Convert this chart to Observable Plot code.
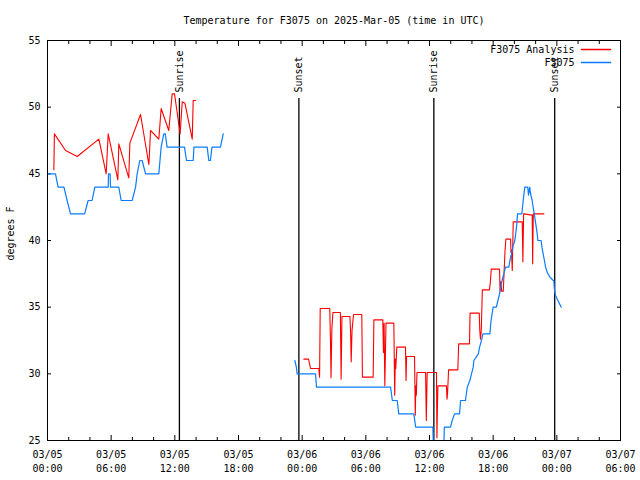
<!DOCTYPE html>
<html>
<head>
<meta charset="utf-8">
<script src="https://cdn.jsdelivr.net/npm/d3@7"></script>
<script src="https://cdn.jsdelivr.net/npm/@observablehq/plot@0.6"></script>
<style>
  html, body { margin: 0; padding: 0; background: #ffffff; }
</style>
</head>
<body>
<div id="chart"></div>
<script>
// ---- Texts ----
const chartTitle = "Temperature for F3075 on 2025-Mar-05 (time in UTC)";
const yLabel = "degrees F";
const seriesNames = ["F3075 Analysis", "F3075"];
const seriesColors = ["#ff0000", "#0a7cff"];

// ---- Axis ticks (hours since 2025-03-05 00:00 UTC) ----
const xMajorTicks = [0, 6, 12, 18, 24, 30, 36, 42, 48, 54];
const xMinorTicks = [2, 4, 8, 10, 14, 16, 20, 22, 26, 28, 32, 34, 38, 40, 44, 46, 50, 52];
const xTickLabels = [
  "03/05\n00:00", "03/05\n06:00", "03/05\n12:00", "03/05\n18:00",
  "03/06\n00:00", "03/06\n06:00", "03/06\n12:00", "03/06\n18:00",
  "03/07\n00:00", "03/07\n06:00"
];
const yTicks = [25, 30, 35, 40, 45, 50, 55];

// ---- Sun events ----
const sunHours = [12.43, 23.69, 36.41, 47.8];
const sunLabels = ["Sunrise", "Sunset", "Sunrise", "Sunset"];

// ---- F3075 observations (blue) ----
const obsHours = [
  0, 0.75, 1.0, 1.55, 1.85, 2.17, 3.5, 3.83, 4.2, 4.46, 5.72, 5.75, 5.9, 5.94, 6.72, 6.94,
  7.98, 8.3, 8.45, 8.7, 8.92, 9.24, 10.49, 10.6, 10.71, 10.96, 11.1, 11.27, 12.91, 13.1,
  13.73, 13.8, 15.05, 15.2, 15.35, 15.5, 16.3, 16.56,
  20,
  23.31, 23.45, 23.53, 25.26, 25.35, 32.33, 32.5, 32.96, 33.1, 34.52, 34.7, 36.32, 36.38,
  37.33, 37.4, 37.98, 38.14, 38.36, 38.83, 38.93, 39.39, 39.56, 39.8, 39.96, 40.12, 40.18,
  40.6, 40.72, 40.9, 41.03, 41.69, 41.8, 42.0, 42.3, 42.45, 42.6, 42.7, 42.84, 43.0, 43.17,
  43.48, 43.6, 43.73, 43.88, 44.04, 44.2, 44.3, 44.7, 44.83, 44.98, 45.26, 45.33, 45.4,
  45.45, 45.5, 45.67, 45.87, 46.06, 46.15, 46.21, 46.52, 46.6, 46.71, 46.83, 46.94, 47.1,
  47.35, 47.66, 47.72, 47.78, 47.87, 48.1, 48.42
];
const obsTemps = [
  45, 45, 44, 44, 43, 42, 42, 43, 43, 44, 44, 45, 45, 44, 44, 43,
  43, 44, 45, 46, 46, 45, 45, 46, 47, 48, 48, 47, 47, 46,
  46, 47, 47, 46, 46, 47, 47, 48,
  null,
  31, 30.5, 30, 30, 29, 29, 28, 28, 27, 27, 26, 26, 24,
  24, 26, 26, 26.5, 27, 27, 28, 28, 29, 29.5, 30, 30.5, 31,
  31.5, 32, 32.5, 33, 33, 34, 35, 35, 35.5, 36, 36.5, 37, 37.5, 38,
  38, 38.6, 39, 39.6, 40, 41, 42, 42, 43, 44, 44, 43.4, 43.8,
  44, 43.6, 43, 42, 41, 40.5, 40, 40, 39.5, 39, 38.5, 38, 37.6,
  37.25, 37, 37, 36.25, 35.9, 35.5, 35
];

// ---- F3075 Analysis (red) ----
const anaHours = [
  0.6, 0.65, 1.7, 2.8, 4.84, 5.53, 5.72, 6.63, 6.72, 7.66, 7.76, 8.77, 9.55, 9.6, 9.71,
  10.49, 10.71, 11.43, 11.75, 11.97, 12.22, 12.5, 12.7, 12.95, 13.64, 13.73, 13.95,
  20,
  24.16, 24.6, 24.7, 24.79, 25.57, 25.64, 25.7, 26.6, 26.67, 26.72, 26.8, 26.9, 27.6, 27.67,
  27.75, 28.5, 28.56, 28.62, 28.7, 28.84, 29.62, 29.68, 30.69, 30.76, 31.6, 31.66, 31.72,
  31.79, 31.9, 32.64, 32.72, 32.78, 32.82, 32.92, 33.74, 33.79, 33.84, 34.59, 34.66, 34.71,
  34.76, 34.82, 35.63, 35.7, 35.78, 36.66, 36.7, 36.75, 36.79, 37.6, 37.65, 37.7, 37.8,
  38.67, 38.75, 39.77, 39.82, 40.69, 40.74, 40.8, 40.88, 40.98, 41.65, 41.72, 41.82, 42.6,
  42.65, 42.72, 42.8, 42.95, 43.12, 43.2, 43.64, 43.68, 43.72, 43.8, 43.89, 44.74, 44.77,
  44.8, 44.87, 45.68, 45.72, 45.78, 46.78
];
const anaTemps = [
  45.3, 48.0, 46.75, 46.3, 47.6, 45.0, 48.0, 44.55, 47.25, 44.7, 47.3, 49.45, 45.7, 46.4, 48.25,
  47.6, 49.9, 48.25, 51.0, 51.0, 49.6, 48.0, 50.4, 50.3, 47.6, 50.5, 50.5,
  null,
  31.1, 31.1, 30.75, 30.4, 30.4, 29.75, 34.9, 34.9, 32.4, 29.7, 33.4, 34.6, 34.6, 29.6,
  34.3, 34.3, 33.25, 30.9, 33.25, 34.45, 34.45, 29.75, 29.75, 34.05, 34.05, 31.6, 33.8,
  29.1, 33.8, 33.8, 28.4, 31.1, 30.4, 32.0, 32.0, 29.5, 31.3, 31.3, 26.9, 29.1,
  28.4, 30.1, 30.1, 26.5, 30.1, 30.1, 25.2, 27.6, 29.1, 29.1, 28.1, 28.5, 30.3,
  30.3, 32.25, 32.25, 34.55, 34.55, 33.25, 32.6, 33.25, 36.3, 36.3, 36.75, 37.85, 37.85,
  36.2, 36.9, 36.2, 36.2, 39.25, 40.1, 40.1, 39.1, 39.3, 37.75, 41.4, 41.4, 40.0,
  38.4, 42.0, 41.9, 38.25, 42.0, 42.0
];

// ---- Tables built from the arrays ----
const obs = obsHours.map((t, i) => ({t, v: obsTemps[i]}));
const ana = anaHours.map((t, i) => ({t, v: anaTemps[i]}));
const sunEvents = sunHours.map((t, i) => ({t, label: sunLabels[i]}));
const labelFor = (d) => xTickLabels[xMajorTicks.indexOf(d)];

const hLine = { draw(context, l) { context.moveTo(0, 0); context.lineTo(0, -l); } };

const chart = Plot.plot({
  width: 640,
  height: 480,
  marginLeft: 47,
  marginRight: 20,
  marginTop: 40,
  marginBottom: 40,
  style: { fontFamily: "'DejaVu Sans Mono', monospace", fontSize: "10px", background: "#ffffff", color: "#000000" },
  x: { domain: [0, 54] },
  y: { domain: [25, 55] },
  marks: [
    // inward ticks (bottom / top)
    Plot.axisX(xMajorTicks, { anchor: "bottom", tickSize: 5, dy: -5, fill: "none", label: null }),
    Plot.axisX(xMinorTicks, { anchor: "bottom", tickSize: 3, dy: -3, fill: "none", label: null }),
    Plot.axisX(xMajorTicks, { anchor: "top", tickSize: 5, dy: 5, fill: "none", label: null }),
    Plot.axisX(xMinorTicks, { anchor: "top", tickSize: 3, dy: 3, fill: "none", label: null }),
    // x tick labels
    Plot.axisX(xMajorTicks, { anchor: "bottom", tickSize: 0, tickPadding: 8, tickFormat: labelFor, lineHeight: 1.4, label: null }),
    // y ticks (inward, both sides)
    Plot.axisY(yTicks, { anchor: "left", tickSize: 4, dx: 4, fill: "none", label: null }),
    Plot.axisY(yTicks, { anchor: "right", tickSize: 4, dx: -4, fill: "none", label: null }),
    Plot.axisY(yTicks, { anchor: "left", tickSize: 0, tickPadding: 7, label: null }),
    // y axis title
    Plot.text([yLabel], { text: (d) => d, frameAnchor: "left", dx: -37, dy: -7, rotate: -90, lineAnchor: "middle", textAnchor: "middle", fill: "#000000" }),
    // sunrise / sunset markers
    Plot.ruleX(sunEvents, { x: "t", insetTop: 58, stroke: "#000000", strokeWidth: 1.3 }),
    Plot.text(sunEvents, { x: "t", text: "label", frameAnchor: "top", dy: 52, rotate: -90, textAnchor: "start", lineAnchor: "middle", fill: "#000000" }),
    // series
    Plot.line(ana, { x: "t", y: "v", stroke: seriesColors[0], strokeWidth: 1.1, clip: true }),
    Plot.line(obs, { x: "t", y: "v", stroke: seriesColors[1], strokeWidth: 1.2, clip: true }),
    // frame
    Plot.frame({ stroke: "#000000", strokeWidth: 1 }),
    // title
    Plot.text([chartTitle], { text: (d) => d, frameAnchor: "top", dy: -20, lineAnchor: "middle", fill: "#000000" }),
    // legend
    Plot.text([seriesNames[0]], { text: (d) => d, frameAnchor: "top-right", dx: -46, dy: 9, textAnchor: "end", lineAnchor: "middle", fill: "#000000" }),
    Plot.text([seriesNames[1]], { text: (d) => d, frameAnchor: "top-right", dx: -46, dy: 22, textAnchor: "end", lineAnchor: "middle", fill: "#000000" }),
    Plot.vector([seriesNames[0]], { frameAnchor: "top-right", dx: -39, dy: 9, length: 29, rotate: 90, anchor: "start", shape: hLine, stroke: seriesColors[0], strokeWidth: 1.5 }),
    Plot.vector([seriesNames[1]], { frameAnchor: "top-right", dx: -39, dy: 22, length: 29, rotate: 90, anchor: "start", shape: hLine, stroke: seriesColors[1], strokeWidth: 1.5 })
  ]
});

document.getElementById("chart").appendChild(chart);
</script>
</body>
</html>
